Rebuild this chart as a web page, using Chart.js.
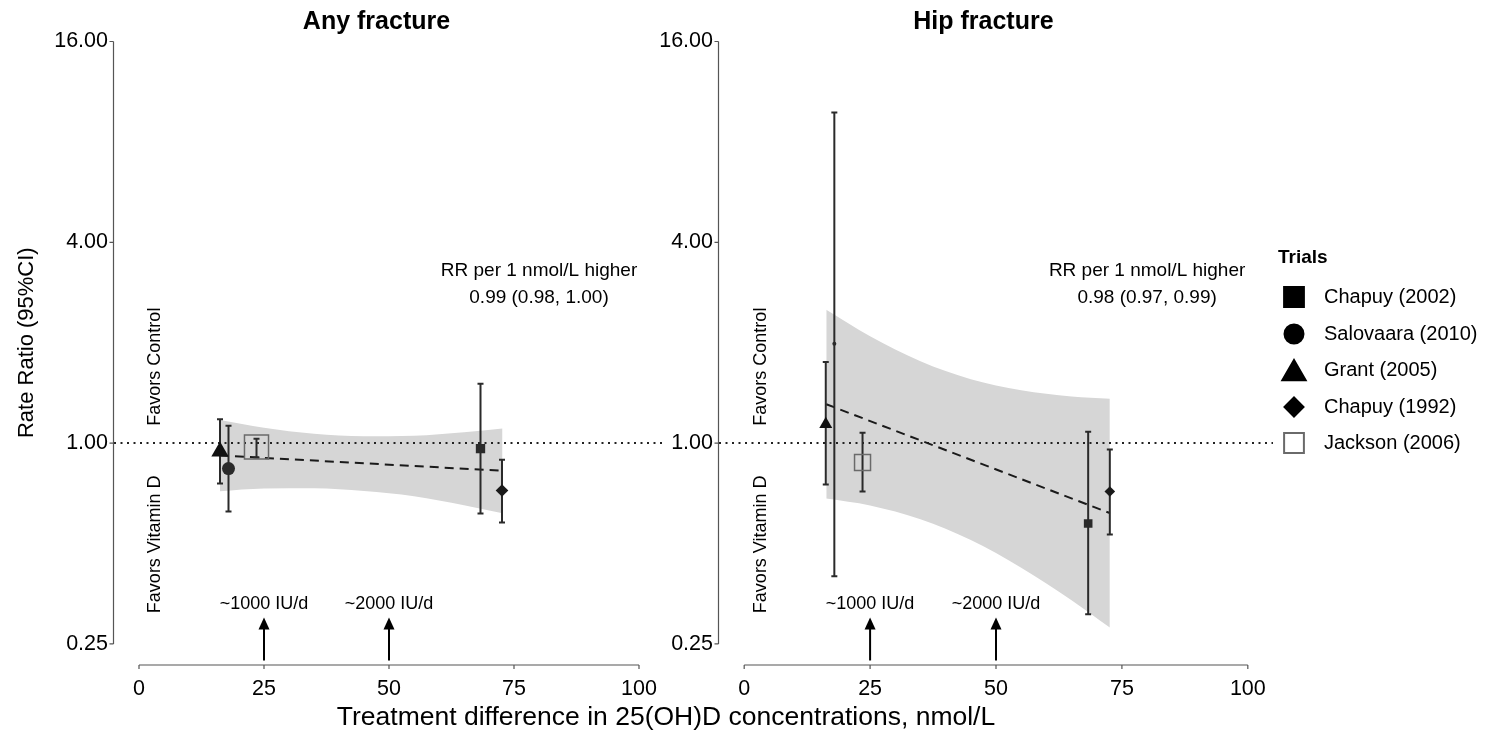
<!DOCTYPE html>
<html>
<head>
<meta charset="utf-8">
<script src="https://cdn.jsdelivr.net/npm/chart.js@4.4.0/dist/chart.umd.min.js"></script>
<style>
  body { margin: 0; background: #fff; overflow: hidden; }
  #wrap { position: relative; width: 1486px; height: 733px; }
  #wrap canvas { position: absolute; left: 0; top: 0; }
  #xtitle {
    position: absolute; left: 266px; top: 701px; width: 800px;
    text-align: center; font: 26.5px "Liberation Sans", Arial, sans-serif; line-height: 30px; color: #000;
  }
</style>
</head>
<body>
<div id="wrap">
  <canvas id="anyChart" width="1486" height="733"></canvas>
  <canvas id="hipChart" width="1486" height="733"></canvas>
  <div id="xtitle">Treatment difference in 25(OH)D concentrations, nmol/L</div>
</div>
<script>
// trials and their 25(OH)D difference (nmol/L)
const trials = ['Chapuy (2002)', 'Salovaara (2010)', 'Grant (2005)', 'Chapuy (1992)', 'Jackson (2006)'];
const trialDiff = [68.3, 17.9, 16.2, 72.6, 23.5];

// any fracture: rate ratio and 95% CI
const anyRR = [0.963, 0.839, 0.943, 0.721, 0.973];
const anyLow = [0.615, 0.624, 0.756, 0.578, 0.905];
const anyHigh = [1.506, 1.128, 1.18, 0.892, 1.03];

// hip fracture: rate ratio and 95% CI
const hipRR = [0.574, 1.985, 1.14, 0.716, 0.874];
const hipLow = [0.307, 0.399, 0.751, 0.532, 0.716];
const hipHigh = [1.082, 9.8, 1.75, 0.956, 1.075];

// meta-regression line and its confidence band
const anyFitX = [16.2, 72.7];
const anyFitRR = [0.918, 0.826];
const anyBandX = [16.2, 25, 35, 45, 55, 65, 72.7];
const anyBandLow = [0.717, 0.731, 0.732, 0.718, 0.693, 0.651, 0.616];
const anyBandHigh = [1.173, 1.111, 1.066, 1.048, 1.052, 1.078, 1.107];

const hipFitX = [16.3, 72.6];
const hipFitRR = [1.308, 0.617];
const hipBandX = [16.3, 25, 35, 45, 55, 65, 72.6];
const hipBandLow = [0.682, 0.650, 0.591, 0.512, 0.423, 0.338, 0.280];
const hipBandHigh = [2.509, 2.090, 1.759, 1.554, 1.440, 1.380, 1.359];

const xTicks = [0, 25, 50, 75, 100];
const yTicks = [0.25, 1, 4, 16];

const doseX = [25, 50];
const doseLabels = ['~1000 IU/d', '~2000 IU/d'];

const FONT = '"Liberation Sans", Arial, sans-serif';
Chart.defaults.font.family = FONT;
Chart.defaults.color = '#000';

// marker look per trial (weights differ between the panels)
const shapes = ['rect', 'circle', 'triangle', 'rectRot', 'rect'];
const fills = ['#2a2a2a', '#2a2a2a', '#111', '#1a1a1a', 'rgba(0,0,0,0)'];
const strokes = ['#2a2a2a', '#2a2a2a', '#111', '#1a1a1a', '#6a6a6a'];
const anyRadius = [6.6, 6.5, 10, 6.3, 17];
const hipRadius = [6.1, 2, 7.5, 5.3, 11.3];

// axes, reference texts, arrows and legend
const decor = {
  id: 'decor',
  afterDraw(chart, args, opts) {
    const { ctx, chartArea } = chart;
    const x = chart.scales.x, y = chart.scales.y;
    ctx.save();

    // axis lines only over the tick range
    ctx.strokeStyle = '#555';
    ctx.lineWidth = 1.2;
    const ax = chartArea.left - 0.5, ay = chartArea.bottom + 1;
    ctx.beginPath();
    ctx.moveTo(ax, y.getPixelForValue(yTicks[yTicks.length - 1]));
    ctx.lineTo(ax, y.getPixelForValue(yTicks[0]));
    yTicks.forEach(v => { const p = y.getPixelForValue(v); ctx.moveTo(ax, p); ctx.lineTo(ax - 4, p); });
    ctx.moveTo(x.getPixelForValue(xTicks[0]), ay);
    ctx.lineTo(x.getPixelForValue(xTicks[xTicks.length - 1]), ay);
    xTicks.forEach(v => { const p = x.getPixelForValue(v); ctx.moveTo(p, ay); ctx.lineTo(p, ay + 4); });
    ctx.stroke();

    ctx.fillStyle = '#000';
    // panel title
    ctx.font = 'bold 25px ' + FONT;
    ctx.textAlign = 'center';
    ctx.textBaseline = 'middle';
    ctx.fillText(opts.title, x.getPixelForValue(47.5), chartArea.top + 0.6);

    // RR per nmol/L note
    ctx.font = '19px ' + FONT;
    ctx.fillText('RR per 1 nmol/L higher', x.getPixelForValue(80), y.getPixelForValue(3.28));
    ctx.fillText(opts.rr, x.getPixelForValue(80), y.getPixelForValue(2.73));

    // favors labels, vertical
    ctx.font = '18px ' + FONT;
    const fx = x.getPixelForValue(3.3);
    ctx.save();
    ctx.translate(fx, y.getPixelForValue(1.128));
    ctx.rotate(-Math.PI / 2);
    ctx.textAlign = 'left';
    ctx.fillText('Favors Control', 0, 0);
    ctx.restore();
    ctx.save();
    ctx.translate(fx, y.getPixelForValue(0.80));
    ctx.rotate(-Math.PI / 2);
    ctx.textAlign = 'right';
    ctx.fillText('Favors Vitamin D', 0, 0);
    ctx.restore();

    // dose arrows
    doseX.forEach((d, i) => {
      const px = x.getPixelForValue(d);
      const tip = y.getPixelForValue(0.30), base = y.getPixelForValue(0.223);
      ctx.strokeStyle = '#000';
      ctx.lineWidth = 2;
      ctx.beginPath();
      ctx.moveTo(px, base);
      ctx.lineTo(px, tip + 8);
      ctx.stroke();
      ctx.beginPath();
      ctx.moveTo(px, tip);
      ctx.lineTo(px - 5.5, tip + 12);
      ctx.lineTo(px + 5.5, tip + 12);
      ctx.closePath();
      ctx.fill();
      ctx.font = '18px ' + FONT;
      ctx.textAlign = 'center';
      ctx.fillText(doseLabels[i], px, y.getPixelForValue(0.329));
    });

    if (opts.legend) {
      ctx.textAlign = 'left';
      ctx.font = 'bold 19px ' + FONT;
      ctx.fillText('Trials', 1278, 258);
      const legendY = [297, 334, 370, 407, 443];
      const legendR = [14, 9.5, 13.5, 9.5, 14];
      ctx.font = '20px ' + FONT;
      trials.forEach((t, i) => {
        ctx.fillStyle = i === 4 ? 'rgba(0,0,0,0)' : '#000';
        ctx.strokeStyle = i === 4 ? '#6a6a6a' : '#000';
        const dy = shapes[i] === 'triangle' ? legendR[i] / 4 : 0;
        Chart.helpers.drawPoint(ctx, { pointStyle: shapes[i], radius: legendR[i], rotation: 0, borderWidth: i === 4 ? 1.5 : 0.01 }, 1294, legendY[i] + dy);
        ctx.fillStyle = '#000';
        ctx.fillText(t, 1324, legendY[i]);
      });
    }
    ctx.restore();
  }
};

function panel(canvasId, p) {
  const datasets = [];
  datasets.push({
    data: p.bandX.map((v, i) => ({ x: v, y: p.bandLow[i] })),
    borderWidth: 0, pointRadius: 0, fill: false, cubicInterpolationMode: 'monotone', order: 6
  });
  datasets.push({
    data: p.bandX.map((v, i) => ({ x: v, y: p.bandHigh[i] })),
    borderWidth: 0, pointRadius: 0, fill: '-1', backgroundColor: '#d6d6d6', cubicInterpolationMode: 'monotone', order: 5
  });
  // reference line at RR = 1
  datasets.push({
    data: [{ x: -5, y: 1 }, { x: 105, y: 1 }],
    borderColor: '#222', borderWidth: 2, borderDash: [2, 4.5], pointRadius: 0, order: 4
  });
  datasets.push({
    data: p.fitX.map((v, i) => ({ x: v, y: p.fitRR[i] })),
    borderColor: '#1a1a1a', borderWidth: 2, borderDash: [9, 6], pointRadius: 0, order: 3
  });
  trials.forEach((t, i) => {
    datasets.push({
      data: [{ x: trialDiff[i], y: p.low[i] }, { x: trialDiff[i], y: p.high[i] }],
      borderColor: '#2a2a2a', borderWidth: 2, pointStyle: 'line', pointRadius: 3,
      pointBorderWidth: 2, pointBorderColor: '#2a2a2a', order: 2
    });
  });
  trials.forEach((t, i) => {
    datasets.push({
      label: t,
      data: [{ x: trialDiff[i], y: p.rr[i] }],
      showLine: false, pointStyle: shapes[i], pointRadius: p.radius[i],
      pointBackgroundColor: fills[i], pointBorderColor: strokes[i],
      pointBorderWidth: i === 4 ? 1.5 : 0, order: 1
    });
  });

  return new Chart(document.getElementById(canvasId), {
    type: 'line',
    data: { datasets },
    options: {
      responsive: false,
      animation: false,
      events: [],
      layout: { padding: p.padding },
      plugins: {
        legend: { display: false },
        tooltip: { enabled: false },
        decor: { title: p.title, rr: p.rrText, legend: p.legend }
      },
      scales: {
        x: {
          type: 'linear', min: -5, max: 105,
          afterBuildTicks: s => { s.ticks = xTicks.map(v => ({ value: v })); },
          afterFit: s => { s.height = 69; },
          grid: { display: false, drawTicks: false },
          border: { display: false },
          ticks: { font: { size: 21.5 }, color: '#000', padding: 12 }
        },
        y: {
          type: 'logarithmic',
          min: 0.25 * Math.pow(2, -0.2), max: 16 * Math.pow(2, 0.2),
          afterBuildTicks: s => { s.ticks = yTicks.map(v => ({ value: v })); },
          afterFit: s => { s.width = p.yWidth; },
          grid: { display: false, drawTicks: false },
          border: { display: false },
          ticks: { font: { size: 21.5 }, color: '#000', padding: 6, callback: v => Number(v).toFixed(2) },
          title: { display: p.yTitle, text: 'Rate Ratio (95%CI)', font: { size: 22 }, color: '#000', padding: { top: 14, bottom: 0 } }
        }
      }
    },
    plugins: [decor]
  });
}

panel('anyChart', {
  title: 'Any fracture', rrText: '0.99 (0.98, 1.00)', legend: false, yTitle: true,
  rr: anyRR, low: anyLow, high: anyHigh, radius: anyRadius,
  fitX: anyFitX, fitRR: anyFitRR, bandX: anyBandX, bandLow: anyBandLow, bandHigh: anyBandHigh,
  padding: { left: 0, right: 822, top: 21.4, bottom: 0 }, yWidth: 114
});

panel('hipChart', {
  title: 'Hip fracture', rrText: '0.98 (0.97, 0.99)', legend: true, yTitle: false,
  rr: hipRR, low: hipLow, high: hipHigh, radius: hipRadius,
  fitX: hipFitX, fitRR: hipFitRR, bandX: hipBandX, bandLow: hipBandLow, bandHigh: hipBandHigh,
  padding: { left: 619, right: 213, top: 21.4, bottom: 0 }, yWidth: 100
});
</script>
</body>
</html>
